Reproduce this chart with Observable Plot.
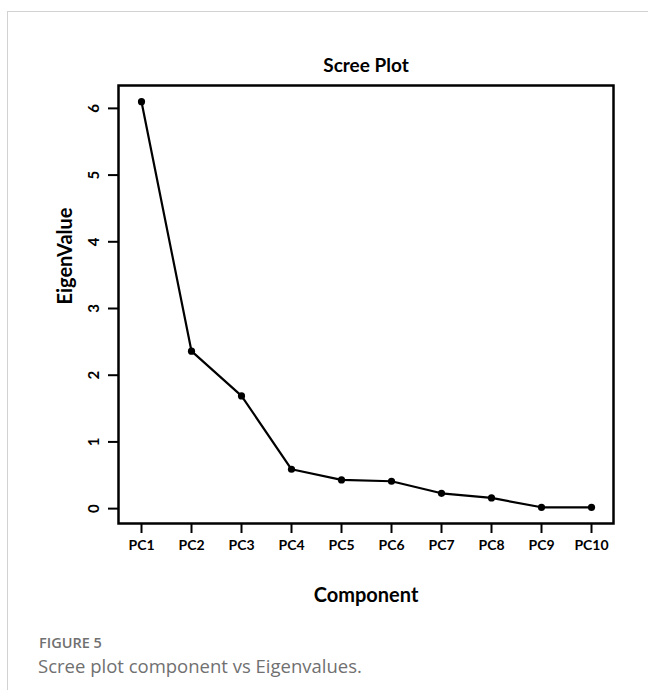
<!DOCTYPE html>
<html><head><meta charset="utf-8">
<script src="https://cdn.jsdelivr.net/npm/d3@7"></script>
<script src="https://cdn.jsdelivr.net/npm/@observablehq/plot@0.6"></script>
<style>
body{margin:0;background:#fff;width:648px;height:690px;overflow:hidden;position:relative;font-family:"Open Sans",Lato,sans-serif}
#border{position:absolute;left:7px;top:11px;width:800px;height:800px;border:1px solid #d2d2d2}
#chart{position:absolute;left:0;top:0}
#fig{position:absolute;left:39px;top:633px;font-size:14.5px;line-height:20px;color:#707070;font-weight:600}
#cap{position:absolute;left:38px;top:653px;font-size:18.5px;line-height:26px;color:#707070;}
</style></head>
<body>
<div id="border"></div>
<div id="chart"></div>
<div id="fig">FIGURE 5</div>
<div id="cap">Scree plot component vs Eigenvalues.</div>
<script>
const components = ["PC1","PC2","PC3","PC4","PC5","PC6","PC7","PC8","PC9","PC10"];
const eigenvalues = [6.10, 2.36, 1.69, 0.59, 0.43, 0.41, 0.23, 0.16, 0.02, 0.02];
const yTicks = [0, 1, 2, 3, 4, 5, 6];
const titleText = "Scree Plot";
const xLabel = "Component";
const yLabel = "EigenValue";

const data = components.map((c, i) => ({component: c, value: eigenvalues[i]}));

const chart = Plot.plot({
  width: 648,
  height: 620,
  marginTop: 85,
  marginBottom: 97,
  marginLeft: 118,
  marginRight: 35,
  style: {fontFamily: "Lato, 'Open Sans', sans-serif", background: "transparent", color: "black"},
  x: {type: "point", domain: components, padding: 0.36},
  y: {domain: [-0.223, 6.343]},
  marks: [
    Plot.frame({stroke: "black", strokeWidth: 2.5}),
    Plot.axisX({tickSize: 10, tickPadding: 7, fontSize: 14, fontWeight: "bold", label: null, strokeWidth: 2}),
    Plot.axisY({ticks: yTicks, tickFormat: d3.format("d"), tickSize: 10, tickRotate: -90, tickPadding: 10, fontSize: 15, fontWeight: "bold", label: null, strokeWidth: 2}),
    Plot.line(data, {x: "component", y: "value", stroke: "black", strokeWidth: 2.2}),
    Plot.dot(data, {x: "component", y: "value", r: 3.6, fill: "black"}),
    Plot.text([titleText], {text: d => d, frameAnchor: "top", lineAnchor: "middle", dy: -20, fontSize: 19, fontWeight: "bold"}),
    Plot.text([xLabel], {text: d => d, frameAnchor: "bottom", lineAnchor: "middle", dy: 72, fontSize: 20, fontWeight: "bold"}),
    Plot.text([yLabel], {text: d => d, frameAnchor: "left", dx: -53, rotate: -90, fontSize: 20, fontWeight: "bold"})
  ]
});
document.getElementById("chart").appendChild(chart);
</script>
</body></html>
